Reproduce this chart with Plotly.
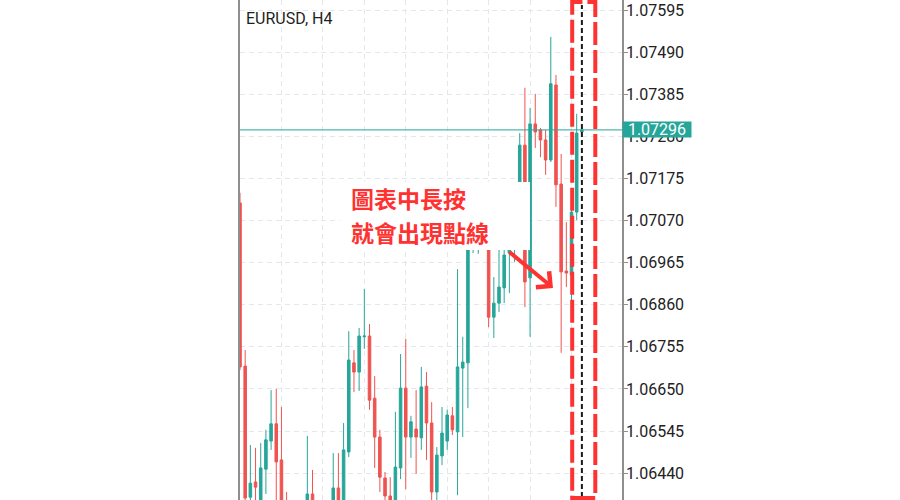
"""
EURUSD H4 candlestick screenshot with the "long-press shows the dotted line" callout.
"""

import plotly.graph_objects as go

# ── Data (candle 0 is cut by the left edge) ──────────────────────────────
candle_x = list(range(67))

opens = [
    1.07114, 1.06707, 1.06380, 1.06418, 1.06360, 1.06450, 1.06520, 1.06563,
    1.06473, 1.06343, 1.06298, 1.06323, 1.06286, 1.06360, 1.06388, 1.06348,
    1.06311, 1.06343, 1.06365, 1.06403, 1.06360, 1.06493, 1.06715, 1.06692,
    1.06780, 1.06782, 1.06627, 1.06530, 1.06428, 1.06383, 1.06365, 1.06453,
    1.06652, 1.06530, 1.06550, 1.06528, 1.06657, 1.06565, 1.06393, 1.06483,
    1.06520, 1.06583, 1.06543, 1.06702, 1.06715, 1.07051, 1.07091, 1.07121,
    1.07084, 1.06829, 1.06864, 1.06902, 1.06989, 1.07059, 1.07109, 1.07258,
    1.06927, 1.07311, 1.07296, 1.07271, 1.07221, 1.07408, 1.07161, 1.06944,
    1.06934, 1.07091, 1.07291,
]
highs = [
    1.07139, 1.06747, 1.06510, 1.06503, 1.06515, 1.06548, 1.06647, 1.06650,
    1.06605, 1.06393, 1.06360, 1.06353, 1.06368, 1.06533, 1.06448, 1.06360,
    1.06358, 1.06368, 1.06490, 1.06490, 1.06565, 1.06794, 1.06747, 1.06802,
    1.06899, 1.06812, 1.06682, 1.06548, 1.06443, 1.06430, 1.06593, 1.06737,
    1.06775, 1.06583, 1.06647, 1.06705, 1.06692, 1.06617, 1.06505, 1.06605,
    1.06598, 1.06605, 1.06949, 1.06780, 1.07066, 1.07109, 1.07141, 1.07146,
    1.07109, 1.06929, 1.07021, 1.07034, 1.07084, 1.07134, 1.07288, 1.07401,
    1.07351, 1.07386, 1.07301, 1.07296, 1.07528, 1.07433, 1.07236, 1.07066,
    1.07101, 1.07336, 1.07298,
]
lows = [
    1.06697, 1.06348, 1.06348, 1.06336, 1.06343, 1.06388, 1.06498, 1.06360,
    1.06323, 1.06273, 1.06261, 1.06253, 1.06261, 1.06343, 1.06323, 1.06286,
    1.06293, 1.06323, 1.06353, 1.06336, 1.06348, 1.06480, 1.06642, 1.06645,
    1.06750, 1.06598, 1.06453, 1.06393, 1.06360, 1.06336, 1.06353, 1.06425,
    1.06400, 1.06478, 1.06438, 1.06498, 1.06473, 1.06360, 1.06365, 1.06460,
    1.06498, 1.06535, 1.06385, 1.06530, 1.06602, 1.06989, 1.06987, 1.07034,
    1.06804, 1.06777, 1.06842, 1.06864, 1.06889, 1.06967, 1.07084, 1.06854,
    1.06780, 1.07251, 1.07228, 1.07184, 1.07216, 1.07104, 1.06740, 1.06904,
    1.06867, 1.07071, 1.07288,
]
closes = [
    1.06705, 1.06378, 1.06415, 1.06405, 1.06453, 1.06523, 1.06563, 1.06468,
    1.06348, 1.06298, 1.06323, 1.06286, 1.06360, 1.06388, 1.06348, 1.06311,
    1.06343, 1.06365, 1.06403, 1.06365, 1.06498, 1.06722, 1.06692, 1.06782,
    1.06782, 1.06622, 1.06530, 1.06430, 1.06383, 1.06360, 1.06455, 1.06652,
    1.06530, 1.06568, 1.06530, 1.06655, 1.06565, 1.06393, 1.06485, 1.06540,
    1.06585, 1.06548, 1.06705, 1.06717, 1.07051, 1.07091, 1.07121, 1.07084,
    1.06829, 1.06864, 1.06904, 1.06984, 1.07046, 1.07109, 1.07258, 1.06917,
    1.07311, 1.07291, 1.07271, 1.07221, 1.07411, 1.07159, 1.06942, 1.06939,
    1.07091, 1.07288, 1.07296,
]

price_ticks = [1.07595, 1.07490, 1.07385, 1.07280, 1.07175, 1.07070,
               1.06965, 1.06860, 1.06755, 1.06650, 1.06545, 1.06440]
price_labels = ["1.07595", "1.07490", "1.07385", "1.07280", "1.07175", "1.07070",
                "1.06965", "1.06860", "1.06755", "1.06650", "1.06545", "1.06440"]
grid_x = [8, 16, 24, 32, 40, 48, 56, 64]

last_price = 1.07296
cursor_x = 66
callout_lines = ["圖表中長按", "就會出現點線"]

# ── Colours ──────────────────────────────────────────────────────────────
_UP = "#26a69a"
_DOWN = "#ef5350"
_RED = "#ff3232"
_GRID = "#e1e8ee"
_AXIS = "#8f8f8f"

fig = go.Figure(
    go.Candlestick(
        x=candle_x,
        open=opens,
        high=highs,
        low=lows,
        close=closes,
        increasing=dict(line=dict(color=_UP, width=1), fillcolor=_UP),
        decreasing=dict(line=dict(color=_DOWN, width=1), fillcolor=_DOWN),
        whiskerwidth=0,
        hoverinfo="skip",
        showlegend=False,
    )
)

shapes = [
    # white box behind the callout text (hides candles and grid)
    dict(type="rect", xref="paper", yref="paper", x0=0.262, x1=0.7592,
         y0=0.5, y1=0.636, fillcolor="white", line=dict(width=0), layer="above"),
    # last price line
    dict(type="line", xref="paper", yref="y", x0=0, x1=1,
         y0=last_price, y1=last_price, line=dict(color=_UP, width=1), layer="above"),
    # crosshair dotted line
    dict(type="line", xref="x", yref="paper", x0=cursor_x, x1=cursor_x,
         y0=0.006, y1=0.99, line=dict(color="#1a1a1a", width=2, dash="5px,3px"),
         layer="above"),
    # red dashed highlight box
    dict(type="rect", xref="x", yref="paper", x0=64.13, x1=68.59,
         y0=0.004, y1=0.996, fillcolor="rgba(0,0,0,0)",
         line=dict(color=_RED, width=4, dash="23px,5px"), layer="above"),
]

annotations = [
    dict(text="EURUSD, H4", xref="paper", yref="paper", x=0, y=1,
         xanchor="left", yanchor="top", xshift=4, yshift=-7, showarrow=False,
         font=dict(family="Roboto", size=16, color="#1f1f1f")),
    dict(text=f"{last_price:.5f}", xref="paper", yref="y",
         x=1, y=last_price, xanchor="left", yanchor="middle", xshift=0,
         showarrow=False, width=66, height=13, borderpad=1, bgcolor=_UP,
         font=dict(family="Roboto", size=16, color="white")),
    dict(text=f"<b>{callout_lines[0]}</b>", xref="paper", yref="paper",
         x=0.2866, y=0.604, xanchor="left", yanchor="middle", showarrow=False,
         font=dict(family="Noto Sans CJK TC", size=23, color=_RED)),
    dict(text=f"<b>{callout_lines[1]}</b>", xref="paper", yref="paper",
         x=0.2866, y=0.536, xanchor="left", yanchor="middle", showarrow=False,
         font=dict(family="Noto Sans CJK TC", size=23, color=_RED)),
    dict(text="", x=60.42, y=1.06902, xref="x", yref="y", ax=-45, ay=-37,
         showarrow=True, arrowhead=4, arrowsize=1, arrowwidth=4, arrowcolor=_RED),
]

fig.update_layout(
    width=900,
    height=500,
    paper_bgcolor="white",
    plot_bgcolor="white",
    margin=dict(l=240, r=278, t=0, b=0),
    font=dict(family="Roboto", size=16, color="#222222"),
    showlegend=False,
    shapes=shapes,
    annotations=annotations,
    xaxis=dict(
        range=[0, 73.745],
        rangeslider=dict(visible=False),
        tickvals=grid_x,
        showticklabels=False,
        ticks="",
        showgrid=True,
        gridcolor=_GRID,
        griddash="5px,4px",
        zeroline=False,
        showline=False,
    ),
    yaxis=dict(
        side="right",
        range=[1.06373, 1.07620],
        tickvals=price_ticks,
        ticktext=price_labels,
        ticks="outside",
        ticklen=4,
        tickcolor=_AXIS,
        ticklabelstandoff=-5,
        showgrid=True,
        gridcolor=_GRID,
        griddash="5px,4px",
        zeroline=False,
        showline=True,
        linecolor=_AXIS,
        linewidth=1.5,
        mirror=True,
        tickfont=dict(family="Roboto", size=16, color="#222222"),
    ),
)

# the page should start at the window's corner, like the screenshot
fig.write_html(
    "out.html",
    config={"displayModeBar": False},
    post_script="document.body.style.margin = '0';",
)
